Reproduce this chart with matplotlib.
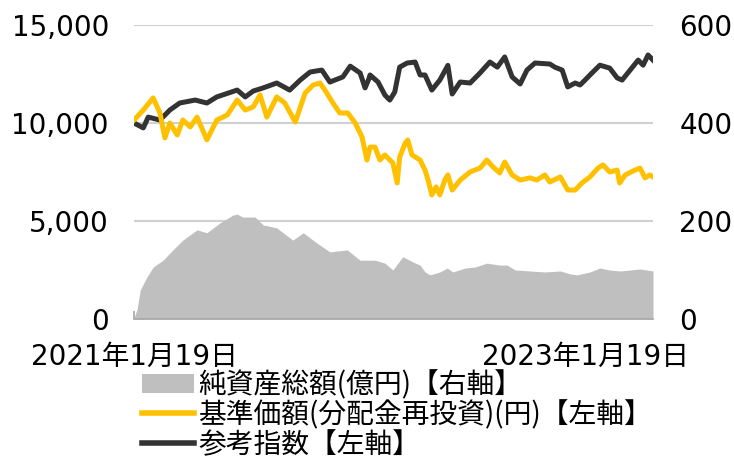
import numpy as np
import pandas as pd
import matplotlib
matplotlib.use("Agg")
import matplotlib.pyplot as plt
from matplotlib.patches import Patch
from matplotlib.lines import Line2D

plt.rcParams['font.family'] = ['DejaVu Sans', 'Noto Sans CJK JP']

start = pd.Timestamp("2021-01-19")

# 参考指数 (左軸) : 開始日からの日数と値
idx_days = [0, 15, 23, 42, 58, 74, 99, 118, 134, 167, 180, 193, 209, 231, 252, 269,
            285, 304, 317, 338, 350, 366, 374, 380, 382, 395, 406, 414, 422, 430, 442,
            455, 463, 471, 482, 495, 508, 515, 528, 544, 560, 576, 588, 600, 612, 625,
            636, 649, 673, 681, 693, 702, 714, 722, 730, 738, 754, 770, 782, 790, 803,
            816, 824, 832, 840]
idx_vals = [10000, 9750, 10300, 10150, 10660, 11020, 11170, 11020, 11330, 11680, 11330,
            11630, 11790, 12040, 11680, 12190, 12600, 12700, 12090, 12350, 12900, 12550,
            11790, 12240, 12450, 12090, 11430, 11170, 11580, 12850, 13060, 13110, 12450,
            12450, 11680, 12190, 12940, 11480, 12090, 12040, 12550, 13110, 12850, 13370,
            12350, 11990, 12700, 13060, 13010, 12850, 12700, 11840, 12040, 11940, 12190,
            12450, 12950, 12800, 12300, 12190, 12700, 13210, 12950, 13470, 13210]

# 基準価額(分配金再投資) (左軸)
nav_days = [0, 15, 31, 42, 50, 58, 70, 79, 91, 102, 118, 134, 151, 167, 180, 193, 204,
            215, 231, 244, 261, 277, 290, 301, 309, 322, 333, 346, 358, 369, 377, 382,
            390, 398, 406, 419, 426, 430, 439, 443, 450, 463, 471, 476, 482, 489, 495,
            503, 508, 515, 528, 544, 560, 571, 581, 592, 600, 612, 625, 641, 652, 665,
            673, 690, 702, 714, 725, 738, 751, 759, 770, 782, 786, 795, 811, 819, 827,
            835, 840]
nav_vals = [10150, 10660, 11280, 10510, 9240, 10000, 9390, 10150, 9800, 10300, 9140,
            10150, 10410, 11170, 10660, 10820, 11430, 10300, 11330, 11020, 10050, 11530,
            11940, 12040, 11680, 11020, 10510, 10510, 10000, 9290, 8110, 8770, 8770, 8110,
            8370, 7960, 6940, 8260, 8980, 9130, 8370, 8110, 7600, 7090, 6330, 6740, 6330,
            7090, 7350, 6580, 7090, 7500, 7700, 8110, 7760, 7450, 8010, 7350, 7090, 7200,
            7090, 7350, 6990, 7250, 6580, 6580, 6940, 7250, 7700, 7860, 7500, 7600, 6940,
            7350, 7600, 7700, 7200, 7350, 7250]

# 純資産総額(億円) (右軸)
aum_days = [0, 5, 10, 21, 31, 47, 63, 79, 102, 118, 139, 160, 167, 176, 196, 209, 231,
            257, 274, 296, 317, 345, 366, 390, 406, 419, 435, 452, 463, 471, 479, 495,
            507, 516, 536, 552, 571, 592, 604, 617, 641, 665, 690, 706, 717, 738, 754,
            770, 787, 803, 819, 840]
aum_vals = [2, 20, 59, 86, 106, 120, 141, 161, 182, 176, 196, 212, 214, 208, 208, 192,
            186, 161, 176, 155, 137, 141, 120, 120, 114, 100, 127, 116, 110, 96, 90, 96,
            104, 96, 104, 106, 114, 110, 110, 100, 98, 96, 98, 92, 90, 96, 104, 100, 98,
            100, 102, 98]

tick_labels = ["2021年1月19日", "2023年1月19日"]
tick_dates = [pd.Timestamp("2021-01-19"), pd.Timestamp("2023-01-19")]

legend_labels = ["純資産総額(億円)【右軸】", "基準価額(分配金再投資)(円)【左軸】", "参考指数【左軸】"]

idx_t = start + pd.to_timedelta(idx_days, unit="D")
nav_t = start + pd.to_timedelta(nav_days, unit="D")
aum_t = start + pd.to_timedelta(aum_days, unit="D")

c_gray = "#BFBFBF"
c_yel = "#FFC000"
c_blk = "#333333"

fig = plt.figure(figsize=(7.34, 4.63), dpi=100)
ax = fig.add_axes([134 / 734, 1 - 319 / 463, (653 - 134) / 734, (319 - 25) / 463])
ax2 = ax.twinx()

# 右軸: 純資産総額
ax.fill_between(aum_t, 0, aum_vals, color=c_gray, lw=0)
ax.set_ylim(0, 600)
ax.set_yticks([0, 200, 400, 600])
ax.yaxis.tick_right()
ax.grid(axis="y", color="#D0D0D0", lw=1.5)
ax.set_axisbelow(True)

# 左軸: 基準価額・参考指数
ax2.plot(idx_t, idx_vals, color=c_blk, lw=3.6, solid_joinstyle="round")
ax2.plot(nav_t, nav_vals, color=c_yel, lw=3.6, solid_joinstyle="round")
ax2.set_ylim(0, 15000)
ax2.set_yticks([0, 5000, 10000, 15000])
ax2.set_yticklabels(["0", "5,000", "10,000", "15,000"])
ax2.yaxis.tick_left()

ax.set_xlim(start, start + pd.Timedelta(days=840))
ax.set_xticks(tick_dates)
ax.set_xticklabels(tick_labels)

for a in (ax, ax2):
    for s in ["top", "left", "right", "bottom"]:
        a.spines[s].set_visible(False)
ax.spines["bottom"].set_visible(True)
ax.spines["bottom"].set_color("#A6A6A6")
ax.spines["bottom"].set_linewidth(1.2)

ax.tick_params(axis="x", direction="in", length=6, width=1.2, color="#A6A6A6",
               labelsize=20, pad=17)
ax.tick_params(axis="y", length=0, labelsize=20, pad=19)
ax2.tick_params(axis="y", length=0, labelsize=20, pad=18)
ax2.tick_params(axis="x", length=0)

handles = [Patch(facecolor=c_gray, edgecolor="none"),
           Line2D([], [], color=c_yel, lw=4),
           Line2D([], [], color=c_blk, lw=4)]
fig.legend(handles, legend_labels, loc="upper left",
           bbox_to_anchor=(142 / 734, 1 - 370 / 463), frameon=False,
           prop={"family": ["Noto Sans CJK JP"], "size": 20},
           handlelength=1.88, handletextpad=0.15, labelspacing=0.0,
           borderpad=0, borderaxespad=0)

fig.savefig("out.png", dpi=100)
